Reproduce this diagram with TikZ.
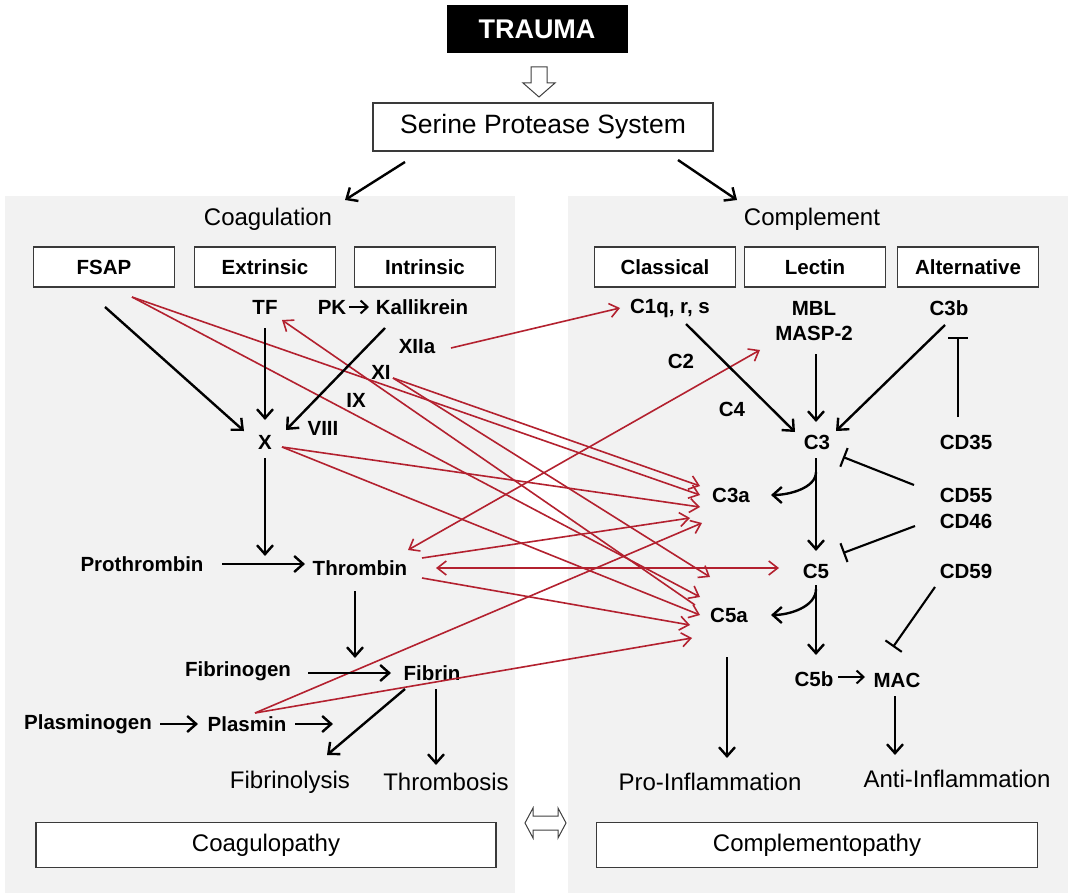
\documentclass[tikz,border=0pt]{standalone}
\usepackage{fontspec}
\setmainfont{Liberation Sans}
\usetikzlibrary{arrows.meta,calc}
\definecolor{panel}{HTML}{F2F2F2}
\definecolor{xred}{HTML}{B3212F}
\definecolor{boxline}{HTML}{3A3A3A}
\begin{document}
\begin{tikzpicture}[x=1pt,y=-1pt,
  bl/.style={font=\fontsize{20.5}{24}\bfseries\selectfont, inner sep=0pt},
  nl/.style={font=\fontsize{24}{28}\selectfont, inner sep=0pt},
  hbox/.style={draw=boxline, line width=1.3pt, fill=white, minimum width=141pt, minimum height=40pt, inner sep=0pt, font=\fontsize{20.5}{24}\bfseries\selectfont},
  wbox/.style={draw=boxline, line width=1.3pt, fill=white, minimum height=45pt, inner sep=0pt, font=\fontsize{24}{28}\selectfont},
  blk/.style={line width=2.4pt, -{Straight Barb[length=9pt,width=16pt]}},
  thin/.style={line width=2pt, -{Straight Barb[length=7pt,width=13pt]}},
  inh/.style={line width=2.1pt, -{Bar[width=20pt]}},
  rd/.style={draw=xred, line width=1.6pt, -{Straight Barb[length=9pt,width=14pt]}},
  rdd/.style={draw=xred, line width=1.6pt, {Straight Barb[length=9pt,width=14pt]}-{Straight Barb[length=9pt,width=14pt]}}
]
\useasboundingbox (0,0) rectangle (1073,893);
\fill[white] (0,0) rectangle (1073,893);
% panels
\fill[panel] (5,196) rectangle (515,893);
\fill[panel] (568,196) rectangle (1068,893);

% top
\node[fill=black, text=white, minimum width=181pt, minimum height=48pt, inner sep=0pt, font=\fontsize{27}{30}\bfseries\selectfont] (trauma) at (537,29) {TRAUMA};
\node[draw=boxline, line width=1.2pt, fill=white, minimum width=340pt, minimum height=48pt, inner sep=0pt, font=\fontsize{26.5}{30}\selectfont] (sps) at (543,127) {Serine Protease System};
\draw[draw=black!75, line width=1pt, fill=white] (531,67) -- (547,67) -- (547,83) -- (555,83) -- (539,97) -- (523,83) -- (531,83) -- cycle;

\node[nl] (coag) at (268,219) {Coagulation};
\node[nl] (compl) at (812,219) {Complement};

% header boxes
\node[hbox] (fsap) at (104,267) {FSAP};
\node[hbox] (extr) at (265,267) {Extrinsic};
\node[hbox] (intr) at (425,267) {Intrinsic};
\node[hbox] (class) at (665,267) {Classical};
\node[hbox] (lect) at (815,267) {Lectin};
\node[hbox] (alt) at (968,267) {Alternative};

% coagulation nodes
\node[bl] (tf) at (265,307) {TF};
\node[bl] (pk) at (332,307) {PK};
\node[bl] (kal) at (422,307) {Kallikrein};
\node[bl] (xiia) at (417,347) {XIIa};
\node[bl] (xi) at (381,372) {XI};
\node[bl] (ix) at (356,400) {IX};
\node[bl] (viii) at (323,428) {VIII};
\node[bl] (x) at (265,442) {X};
\node[bl] (proth) at (142,564) {Prothrombin};
\node[bl] (thr) at (360,568) {Thrombin};
\node[bl] (fgen) at (238,671) {Fibrinogen};
\node[bl] (fib) at (432,673) {Fibrin};
\node[bl] (plg) at (88,724) {Plasminogen};
\node[bl] (pls) at (247,724) {Plasmin};
\node[nl] (flys) at (290,782) {Fibrinolysis};
\node[nl] (thrs) at (446,782) {Thrombosis};

% complement nodes
\node[bl] (c1q) at (670,308) {C1q, r, s};
\node[bl] (mbl) at (814,308) {MBL};
\node[bl] (masp) at (814,333) {MASP-2};
\node[bl] (c3b) at (949,308) {C3b};
\node[bl] (c2) at (681,361) {C2};
\node[bl] (c4) at (732,409) {C4};
\node[bl] (c3) at (817,442) {C3};
\node[bl] (cd35) at (966,442) {CD35};
\node[bl] (c3a) at (731,495) {C3a};
\node[bl] (cd55) at (966,495) {CD55};
\node[bl] (cd46) at (966,521) {CD46};
\node[bl] (c5) at (816,571) {C5};
\node[bl] (cd59) at (966,571) {CD59};
\node[bl] (c5a) at (729,615) {C5a};
\node[bl] (c5b) at (814,679) {C5b};
\node[bl] (mac) at (897,680) {MAC};
\node[nl] (pro) at (710,782) {Pro-Inflammation};
\node[nl] (anti) at (957,779) {Anti-Inflammation};

% bottom
\node[wbox, minimum width=460pt] (coagp) at (266,845) {Coagulopathy};
\node[wbox, minimum width=441pt] (complp) at (817,845) {Complementopathy};
\draw[draw=black!75, line width=1pt, fill=white] (525,823) -- (533,808) -- (533,816) -- (558,816) -- (558,808) -- (566,823) -- (558,838) -- (558,830) -- (533,830) -- (533,838) -- cycle;

% red crosstalk
\draw[rd] ([shift={(34,1)}]xiia.center) -- ([shift={(-50,0)}]c1q.center);
\draw[rd] ([shift={(28,30)}]fsap.center) -- ([shift={(-31,0)}]c3a.center);
\draw[rd] ([shift={(28,30)}]fsap.center) -- ([shift={(-29,-18)}]c5a.center);
\draw[rd] ([shift={(12,6)}]xi.center) -- ([shift={(-31,-9)}]c3a.center);
\draw[rd] ([shift={(12,6)}]xi.center) -- ([shift={(-19,-38)}]c5a.center);
\draw[rd] ([shift={(17,5)}]x.center) -- ([shift={(-31,12)}]c3a.center);
\draw[rd] ([shift={(17,5)}]x.center) -- ([shift={(-29,0)}]c5a.center);
\draw[rd] ([shift={(62,-10)}]thr.center) -- ([shift={(-41,23)}]c3a.center);
\draw[rd] ([shift={(62,10)}]thr.center) -- ([shift={(-39,10)}]c5a.center);
\draw[rdd] ([shift={(76,0)}]thr.center) -- ([shift={(-37,-3)}]c5.center);
\draw[rdd] ([shift={(-54,17)}]masp.center) -- ([shift={(48,-18)}]thr.center);
\draw[rd] ([shift={(8,-11)}]pls.center) -- ([shift={(-29,28)}]c3a.center);
\draw[rd] ([shift={(8,-11)}]pls.center) -- ([shift={(-37,23)}]c5a.center);
\draw[rd] ([shift={(-34,-10)}]c5a.center) -- ([shift={(17,13)}]tf.center);

% black arrows
\draw[blk] ([shift={(-138,35)}]sps.center) -- ([shift={(77,-19)}]coag.center);
\draw[blk] ([shift={(135,33)}]sps.center) -- ([shift={(-75,-19)}]compl.center);
\draw[blk] ([shift={(1,40)}]fsap.center) -- ([shift={(-21,-11)}]x.center);
\draw[blk] ([shift={(0,21)}]tf.center) -- ([shift={(0,-22)}]x.center);
\draw[blk] ([shift={(-37,21)}]kal.center) -- ([shift={(21,-12)}]x.center);
\draw[thin] ([shift={(17,0)}]pk.center) -- ([shift={(-53,0)}]kal.center);
\draw[blk] ([shift={(0,16)}]x.center) -- ([shift={(-95,-12)}]thr.center);
\draw[blk] ([shift={(80,0)}]proth.center) -- ([shift={(-55,-4)}]thr.center);
\draw[blk] ([shift={(-5,23)}]thr.center) -- ([shift={(-77,-15)}]fib.center);
\draw[blk] ([shift={(70,2)}]fgen.center) -- ([shift={(-41,0)}]fib.center);
\draw[blk] ([shift={(72,0)}]plg.center) -- ([shift={(-49,0)}]pls.center);
\draw[blk] ([shift={(48,0)}]pls.center) -- ([shift={(86,0)}]pls.center);
\draw[blk] ([shift={(-27,16)}]fib.center) -- ([shift={(37,-27)}]flys.center);
\draw[blk] ([shift={(4,16)}]fib.center) -- ([shift={(-10,-17)}]thrs.center);

\draw[blk] ([shift={(16,16)}]c1q.center) -- ([shift={(-22,-10)}]c3.center);
\draw[blk] ([shift={(2,21)}]masp.center) -- ([shift={(-1,-20)}]c3.center);
\draw[blk] ([shift={(-4,17)}]c3b.center) -- ([shift={(19,-11)}]c3.center);
\draw[inh] ([shift={(-8,-25)}]cd35.center) -- ([shift={(9,29)}]c3b.center);
\draw[inh] ([shift={(-52,-10)}]cd55.center) -- ([shift={(26,15)}]c3.center);
\draw[blk] ([shift={(-1,16)}]c3.center) -- ([shift={(0,-20)}]c5.center);
\draw[blk] ([shift={(-1,30)}]c3.center) .. controls ([shift={(-1,46)}]c3.center) and ([shift={(58,0)}]c3a.center) .. ([shift={(40,0)}]c3a.center);
\draw[inh] ([shift={(-51,5)}]cd46.center) -- ([shift={(27,-18)}]c5.center);
\draw[blk] ([shift={(0,14)}]c5.center) -- ([shift={(2,-24)}]c5b.center);
\draw[blk] ([shift={(0,18)}]c5.center) .. controls ([shift={(0,36)}]c5.center) and ([shift={(60,0)}]c5a.center) .. ([shift={(42,0)}]c5a.center);
\draw[thin] ([shift={(24,-2)}]c5b.center) -- ([shift={(-32,-3)}]mac.center);
\draw[inh] ([shift={(-31,16)}]cd59.center) -- ([shift={(-4,-33)}]mac.center);
\draw[blk] ([shift={(-2,16)}]mac.center) -- ([shift={(-62,-24)}]anti.center);
\draw[blk] ([shift={(-2,42)}]c5a.center) -- ([shift={(17,-24)}]pro.center);
\end{tikzpicture}
\end{document}
